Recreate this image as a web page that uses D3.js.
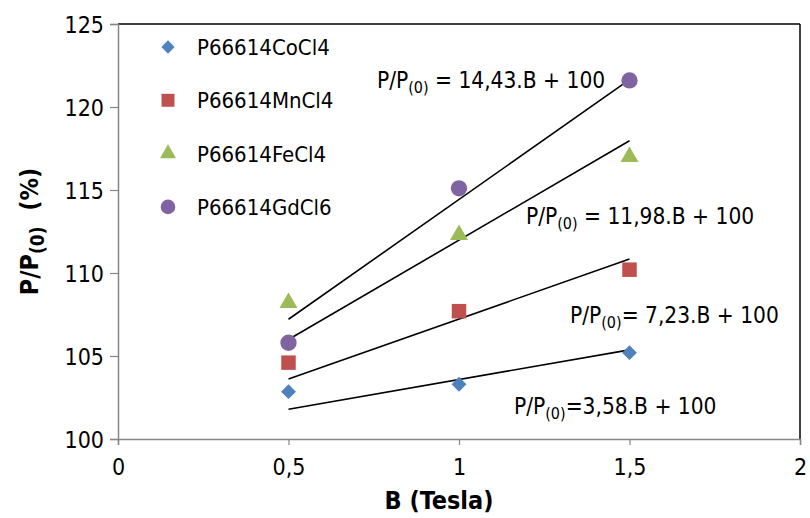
<!DOCTYPE html>
<html>
<head>
<meta charset="utf-8">
<script src="https://cdn.jsdelivr.net/npm/d3@7"></script>
<style>
  body { margin: 0; background: #fff; }
  text { font-family: "DejaVu Sans Condensed", "DejaVu Sans", sans-serif; fill: #000; }
</style>
</head>
<body>
<div id="chart"></div>
<script>
// field values (B in Tesla)
var fields = [0.5, 1, 1.5];

// series names and measured P/P(0) in %
var seriesNames = ["P66614CoCl4", "P66614MnCl4", "P66614FeCl4", "P66614GdCl6"];
var coValues = [102.85, 103.3, 105.2];
var mnValues = [104.6, 107.7, 110.2];
var feValues = [108.2, 112.3, 117.0];
var gdValues = [105.8, 115.1, 121.6];

// fitted slopes (P/P0 = a.B + 100)
var slopes = [3.58, 7.23, 11.98, 14.43];
var eqLabels = ["=3,58.B + 100", "= 7,23.B + 100", " = 11,98.B + 100", " = 14,43.B + 100"];

var xTicks = [0, 0.5, 1, 1.5, 2];
var xTickLabels = ["0", "0,5", "1", "1,5", "2"];
var yTicks = [100, 105, 110, 115, 120, 125];

var svgWidth = 810;
var svgHeight = 518;

var chartMargin = { top: 24, right: 10, bottom: 79, left: 118 };
var width = svgWidth - chartMargin.left - chartMargin.right;
var height = svgHeight - chartMargin.top - chartMargin.bottom;

var colors = ["#4F81BD", "#C0504D", "#9BBB59", "#8064A2"];
var symbols = [d3.symbolSquare, d3.symbolSquare, d3.symbolTriangle, d3.symbolCircle];
var symbolSizes = [110, 210, 140, 210];
var symbolRotate = [45, 0, 0, 0];

var svg = d3.select("#chart").append("svg")
  .attr("width", svgWidth)
  .attr("height", svgHeight);

var chartGroup = svg.append("g")
  .attr("transform", `translate(${chartMargin.left}, ${chartMargin.top})`);

var xScale = d3.scaleLinear().domain([0, 2]).range([0, width]);
var yScale = d3.scaleLinear().domain([100, 125]).range([height, 0]);

// frame: top and right in black
chartGroup.append("line")
  .attr("x1", 0).attr("x2", width).attr("y1", 0).attr("y2", 0)
  .attr("stroke", "#000").attr("stroke-width", 1.5);
chartGroup.append("line")
  .attr("x1", width).attr("x2", width).attr("y1", 0).attr("y2", height)
  .attr("stroke", "#000").attr("stroke-width", 1.5);

// axes
var bottomAxis = d3.axisBottom(xScale)
  .tickValues(xTicks)
  .tickFormat((d, i) => xTickLabels[i])
  .tickSize(6)
  .tickPadding(14);
var leftAxis = d3.axisLeft(yScale)
  .tickValues(yTicks)
  .tickSize(8)
  .tickPadding(6);

var xAxis = chartGroup.append("g")
  .attr("transform", `translate(0, ${height})`)
  .call(bottomAxis);
var yAxis = chartGroup.append("g").call(leftAxis);

[xAxis, yAxis].forEach(function (ax) {
  ax.select(".domain").attr("stroke", "#868686").attr("stroke-width", 1.5);
  ax.selectAll(".tick line").attr("stroke", "#868686").attr("stroke-width", 1.2);
  ax.selectAll(".tick text")
    .style("font-family", "'DejaVu Sans Condensed', 'DejaVu Sans', sans-serif")
    .style("font-size", "23px")
    .attr("fill", "#000");
});
yAxis.selectAll(".tick text").attr("dy", "0.36em");

// trend lines
var allValues = [coValues, mnValues, feValues, gdValues];
slopes.forEach(function (a) {
  chartGroup.append("line")
    .attr("x1", xScale(fields[0]))
    .attr("x2", xScale(fields[fields.length - 1]))
    .attr("y1", yScale(a * fields[0] + 100))
    .attr("y2", yScale(a * fields[fields.length - 1] + 100))
    .attr("stroke", "#000")
    .attr("stroke-width", 1.6);
});

// points
allValues.forEach(function (vals, s) {
  chartGroup.selectAll(".pt" + s)
    .data(vals)
    .enter()
    .append("path")
    .attr("class", "pt" + s)
    .attr("d", d3.symbol().type(symbols[s]).size(symbolSizes[s]))
    .attr("transform", (d, i) => `translate(${xScale(fields[i])}, ${yScale(d)}) rotate(${symbolRotate[s]})`)
    .attr("fill", colors[s]);
});

// legend
var legend = chartGroup.append("g").attr("transform", "translate(50, 23)");
seriesNames.forEach(function (name, i) {
  var row = legend.append("g").attr("transform", `translate(0, ${i * 53.3})`);
  row.append("path")
    .attr("d", d3.symbol().type(symbols[i]).size(symbolSizes[i] * 0.8))
    .attr("transform", `rotate(${symbolRotate[i]})`)
    .attr("fill", colors[i]);
  row.append("text")
    .attr("x", 29)
    .attr("y", 8)
    .style("font-size", "22px")
    .text(name);
});

// equation labels
function eqLabel(x, y, rest) {
  var t = svg.append("text")
    .attr("x", x)
    .attr("y", y)
    .attr("xml:space", "preserve")
    .style("font-size", "22.5px");
  t.append("tspan").text("P/P");
  t.append("tspan").attr("dy", 5).style("font-size", "16px").text("(0)");
  t.append("tspan").attr("dy", -5).text(rest);
}
eqLabel(514, 414, eqLabels[0]);
eqLabel(570, 323, eqLabels[1]);
eqLabel(526, 224, eqLabels[2]);
eqLabel(377, 88, eqLabels[3]);

// axis titles
svg.append("text")
  .attr("x", 439)
  .attr("y", 509)
  .attr("text-anchor", "middle")
  .style("font-size", "25px")
  .style("font-weight", "bold")
  .text("B (Tesla)");

var yTitle = svg.append("text")
  .attr("transform", `translate(38, ${chartMargin.top + height / 2}) rotate(-90)`)
  .attr("text-anchor", "middle")
  .attr("xml:space", "preserve")
  .style("font-size", "25px")
  .style("font-weight", "bold");
yTitle.append("tspan").text("P/P");
yTitle.append("tspan").attr("dy", 6).style("font-size", "19px").text("(0)");
yTitle.append("tspan").attr("dy", -6).text("  (%)");
</script>
</body>
</html>
